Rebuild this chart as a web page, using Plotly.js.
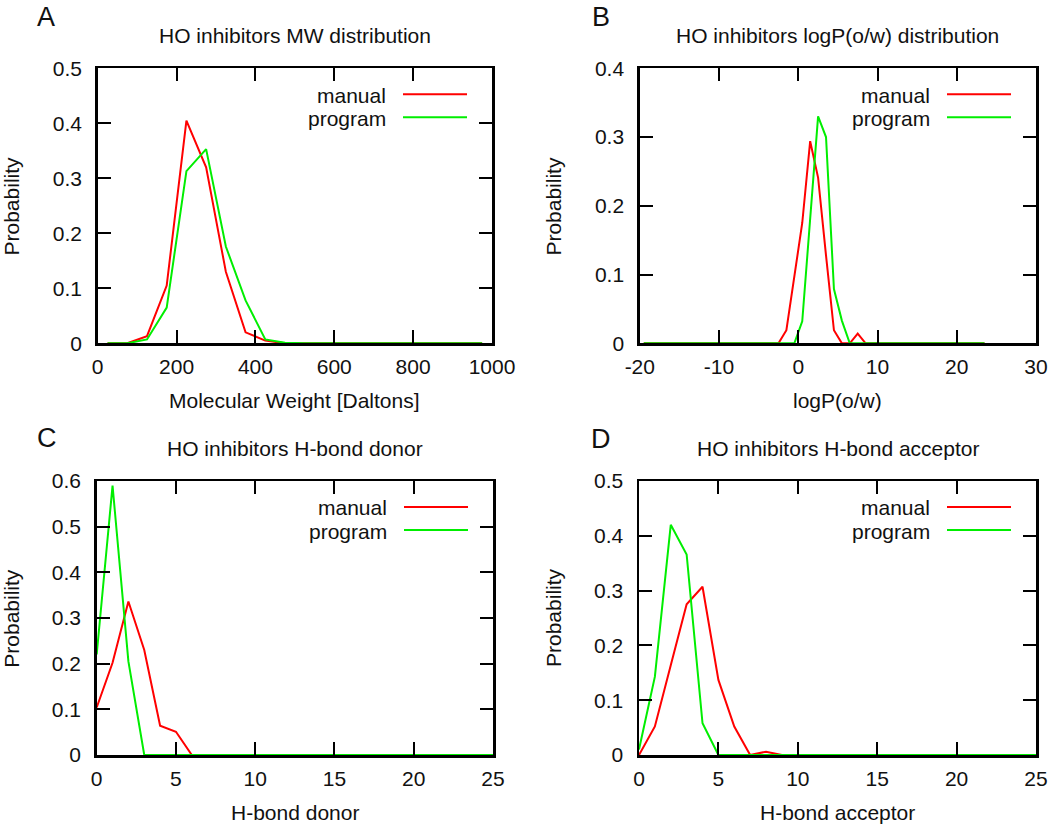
<!DOCTYPE html>
<html>
<head>
<meta charset="utf-8">
<script src="https://cdn.plot.ly/plotly-3.0.1.min.js"></script>
<style>
html,body{margin:0;padding:0;background:#fff;}
#chart{width:1050px;height:827px;}
</style>
</head>
<body>
<div id="chart"></div>
<script>
// ---------------- data ----------------
const seriesNames = ['manual', 'program'];

// A: molecular weight
const mwX = [25, 75, 125, 175, 225, 275, 325, 375, 425, 475, 525, 575, 625, 675, 725, 775, 825, 875, 925, 975];
const mwManual = [0, 0, 0.013, 0.105, 0.405, 0.32, 0.13, 0.02, 0.005, 0, 0, 0, 0, 0, 0, 0, 0, 0, 0, 0];
const mwProgram = [0, 0, 0.007, 0.065, 0.313, 0.353, 0.176, 0.078, 0.007, 0.001, 0, 0, 0, 0, 0, 0, 0, 0, 0, 0];

// B: logP(o/w)
const logX = [-19.5, -18.5, -17.5, -16.5, -15.5, -14.5, -13.5, -12.5, -11.5, -10.5,
              -9.5, -8.5, -7.5, -6.5, -5.5, -4.5, -3.5, -2.5, -1.5, -0.5,
              0.5, 1.5, 2.5, 3.5, 4.5, 5.5, 6.5, 7.5, 8.5, 9.5,
              10.5, 11.5, 12.5, 13.5, 14.5, 15.5, 16.5, 17.5, 18.5, 19.5,
              20.5, 21.5, 22.5, 23.5];
const logManual = [0, 0, 0, 0, 0, 0, 0, 0, 0, 0,
                   0, 0, 0, 0, 0, 0, 0, 0, 0.019, 0.095,
                   0.175, 0.294, 0.241, 0.128, 0.019, 0, 0, 0.014, 0, 0,
                   0, 0, 0, 0, 0, 0, 0, 0, 0, 0,
                   0, 0, 0, 0];
const logProgram = [0, 0, 0, 0, 0, 0, 0, 0, 0, 0,
                    0, 0, 0, 0, 0, 0, 0, 0, 0, 0,
                    0.032, 0.178, 0.33, 0.30, 0.079, 0.033, 0, 0, 0, 0,
                    0, 0, 0, 0, 0, 0, 0, 0, 0, 0,
                    0, 0, 0, 0];

// C: H-bond donor
const donorX = [0, 1, 2, 3, 4, 5, 6, 7, 8, 9, 10, 11, 12, 13, 14, 15, 16, 17, 18, 19, 20, 21, 22, 23, 24, 25];
const donorManual = [0.104, 0.202, 0.336, 0.23, 0.064, 0.051, 0, 0, 0, 0, 0, 0, 0, 0, 0, 0, 0, 0, 0, 0, 0, 0, 0, 0, 0, 0];
const donorProgram = [0.22, 0.59, 0.205, 0, 0, 0, 0, 0, 0, 0, 0, 0, 0, 0, 0, 0, 0, 0, 0, 0, 0, 0, 0, 0, 0, 0];

// D: H-bond acceptor
const accX = [0, 1, 2, 3, 4, 5, 6, 7, 8, 9, 10, 11, 12, 13, 14, 15, 16, 17, 18, 19, 20, 21, 22, 23, 24, 25];
const accManual = [0, 0.052, 0.164, 0.275, 0.307, 0.137, 0.052, 0, 0.006, 0, 0, 0, 0, 0, 0, 0, 0, 0, 0, 0, 0, 0, 0, 0, 0, 0];
const accProgram = [0.01, 0.143, 0.42, 0.366, 0.058, 0, 0, 0, 0, 0, 0, 0, 0, 0, 0, 0, 0, 0, 0, 0, 0, 0, 0, 0, 0, 0];

const panelLetters = ['A', 'B', 'C', 'D'];
const panelTitles = ['HO inhibitors MW distribution', 'HO inhibitors logP(o/w) distribution',
                     'HO inhibitors H-bond donor', 'HO inhibitors H-bond acceptor'];
const xLabels = ['Molecular Weight [Daltons]', 'logP(o/w)', 'H-bond donor', 'H-bond acceptor'];
const yLabel = 'Probability';
const xRanges = [[0, 1000], [-20, 30], [0, 25], [0, 25]];
const xTickVals = [[0, 200, 400, 600, 800, 1000], [-20, -10, 0, 10, 20, 30], [0, 5, 10, 15, 20, 25], [0, 5, 10, 15, 20, 25]];
const xTickText = [['0', '200', '400', '600', '800', '1000'], ['-20', '-10', '0', '10', '20', '30'],
                   ['0', '5', '10', '15', '20', '25'], ['0', '5', '10', '15', '20', '25']];
const yRanges = [[0, 0.5], [0, 0.4], [0, 0.6], [0, 0.5]];
const ySteps = [0.1, 0.1, 0.1, 0.1];

// ---------------- layout ----------------
const W = 1050, H = 827;
const FONT = '"Liberation Sans", Arial, Helvetica, sans-serif';
const TXT = '#111111';
const colors = ['#ff0000', '#00ee00'];
const boxes = [
  {l: 97.7, r: 492, t: 68.3, b: 343.3, letterX: 46, letterY: 0},
  {l: 639.8, r: 1036, t: 68.3, b: 343.3, letterX: 601, letterY: 0},
  {l: 96.7, r: 493, t: 481, b: 755, letterX: 47, letterY: 438},
  {l: 639, r: 1036, t: 481, b: 755, letterX: 601, letterY: 439}
];
const px = v => v / W;
const py = v => 1 - v / H;

const xs = [mwX, logX, donorX, accX];
const ys = [[mwManual, mwProgram], [logManual, logProgram], [donorManual, donorProgram], [accManual, accProgram]];

const traces = [];
const layout = {
  width: W, height: H,
  margin: {l: 0, r: 0, t: 0, b: 0},
  paper_bgcolor: '#fff', plot_bgcolor: '#fff',
  showlegend: false,
  font: {family: FONT, size: 21, color: TXT},
  annotations: [], shapes: []
};

boxes.forEach((bx, i) => {
  const sfx = i === 0 ? '' : String(i + 1);
  const xa = 'x' + sfx, ya = 'y' + sfx;
  for (let s = 0; s < 2; s++) {
    traces.push({
      type: 'scatter', mode: 'lines', x: xs[i], y: ys[i][s], name: seriesNames[s],
      xaxis: xa, yaxis: ya, line: {color: colors[s], width: 2}, hoverinfo: 'skip'
    });
  }
  const common = {
    showline: true, linecolor: '#000', linewidth: 2.5, mirror: 'ticks',
    ticks: 'inside', ticklen: 13, tickwidth: 2, tickcolor: '#000',
    showgrid: false, zeroline: false, fixedrange: true,
    tickfont: {family: FONT, size: 21, color: TXT}
  };
  layout['xaxis' + sfx] = Object.assign({}, common, {
    domain: [px(bx.l), px(bx.r)], range: xRanges[i],
    tickmode: 'array', tickvals: xTickVals[i], ticktext: xTickText[i],
    ticklabelstandoff: 3, anchor: ya
  });
  layout['yaxis' + sfx] = Object.assign({}, common, {
    domain: [py(bx.b), py(bx.t)], range: yRanges[i], tick0: 0, dtick: ySteps[i],
    ticklabelstandoff: 9, anchor: xa
  });
  const cx = (bx.l + bx.r) / 2, cy = (bx.t + bx.b) / 2;
  const ann = (text, x, y, opts) => layout.annotations.push(Object.assign({
    text, x: px(x), y: py(y), xref: 'paper', yref: 'paper', showarrow: false,
    xanchor: 'center', yanchor: 'middle', font: {family: FONT, size: 21, color: TXT}
  }, opts || {}));
  // panel letter
  if (bx.letterY === 0) {
    ann(panelLetters[i], bx.letterX, 0, {yanchor: 'top', font: {family: FONT, size: 27, color: TXT}});
  } else {
    ann(panelLetters[i], bx.letterX, bx.letterY, {font: {family: FONT, size: 27, color: TXT}});
  }
  // title
  ann(panelTitles[i], cx, bx.t - 33);
  // x label
  ann(xLabels[i], cx, bx.b + 57);
  // y label
  ann(yLabel, bx.l - 86, cy, {textangle: -90});
  // legend
  for (let s = 0; s < 2; s++) {
    const ly = bx.t + 26 + 23 * s;
    ann(seriesNames[s], bx.r - 104, ly + 1, {xanchor: 'right'});
    layout.shapes.push({
      type: 'line', xref: 'paper', yref: 'paper',
      x0: px(bx.r - 89), x1: px(bx.r - 25), y0: py(ly), y1: py(ly),
      line: {color: colors[s], width: 2}
    });
  }
});

Plotly.newPlot('chart', traces, layout, {staticPlot: true, displayModeBar: false});
</script>
</body>
</html>
